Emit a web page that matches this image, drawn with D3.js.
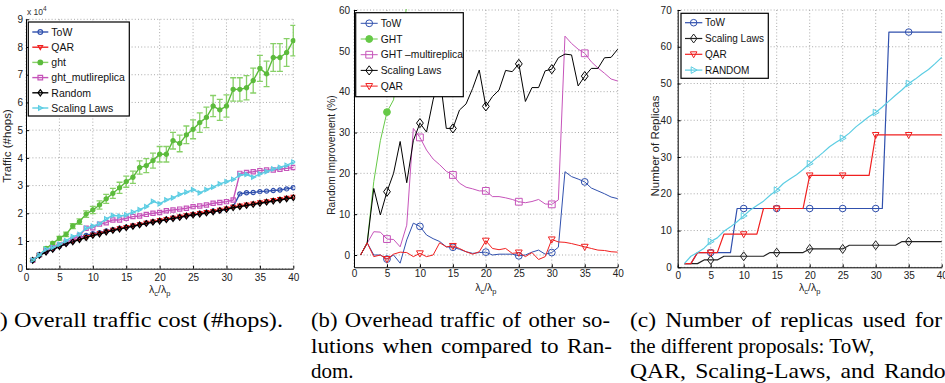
<!DOCTYPE html>
<html>
<head>
<meta charset="utf-8">
<script src="https://cdn.jsdelivr.net/npm/d3@7/dist/d3.min.js"></script>
<style>
  html, body { margin: 0; padding: 0; background: #fff; }
  svg { display: block; }
</style>
</head>
<body>
<svg id="fig" width="945" height="383"></svg>
<script>
// request-rate ratio λc/λp used in every run
const ratio = [1,2,3,4,5,6,7,8,9,10,11,12,13,14,15,16,17,18,19,20,
               21,22,23,24,25,26,27,28,29,30,31,32,33,34,35,36,37,38,39,40];

// (a) overall traffic, in units of 10^4 hops
const trafficTow      = [0.30,0.49,0.61,0.71,0.81,0.91,0.99,1.10,1.20,1.26,1.30,1.36,1.41,1.46,1.50,1.55,1.60,1.65,1.70,1.74,
                         1.79,1.83,1.87,1.92,1.96,2.00,2.04,2.08,2.11,2.16,2.24,2.70,2.74,2.75,2.78,2.80,2.82,2.84,2.88,2.92];
const trafficQar      = [0.30,0.49,0.61,0.71,0.81,0.91,0.99,1.07,1.14,1.22,1.27,1.34,1.40,1.45,1.50,1.55,1.60,1.65,1.70,1.75,
                         1.79,1.83,1.88,1.92,1.96,2.00,2.04,2.08,2.12,2.17,2.23,2.27,2.31,2.35,2.39,2.43,2.47,2.51,2.55,2.59];
const trafficGht      = [0.31,0.49,0.73,0.91,1.10,1.24,1.54,1.70,1.97,2.12,2.30,2.52,2.72,2.92,3.14,3.30,3.65,3.72,3.90,4.13,
                         4.13,4.62,4.52,4.83,5.03,5.27,5.46,5.87,5.73,5.87,6.47,6.47,6.53,6.79,7.23,7.03,7.62,7.62,7.80,8.23];
const trafficGhtErr   = [0.05,0.05,0.06,0.06,0.07,0.08,0.09,0.10,0.12,0.13,0.15,0.16,0.18,0.20,0.20,0.22,0.24,0.25,0.27,0.28,
                         0.28,0.30,0.30,0.32,0.34,0.35,0.37,0.38,0.38,0.40,0.42,0.42,0.44,0.45,0.47,0.46,0.50,0.50,0.50,0.55];
const trafficGhtMulti = [0.30,0.50,0.65,0.76,0.86,0.96,1.06,1.20,1.46,1.48,1.61,1.66,1.76,1.76,1.82,1.88,1.90,1.96,2.00,2.03,
                         2.09,2.12,2.15,2.18,2.24,2.26,2.30,2.36,2.39,2.42,2.48,3.44,3.47,3.50,3.54,3.56,3.56,3.59,3.62,3.65];
const trafficRandom   = [0.30,0.48,0.60,0.70,0.80,0.90,0.97,1.05,1.12,1.20,1.25,1.32,1.38,1.43,1.48,1.53,1.58,1.63,1.68,1.72,
                         1.77,1.81,1.85,1.90,1.94,1.97,2.01,2.05,2.10,2.14,2.20,2.24,2.28,2.32,2.36,2.40,2.44,2.48,2.52,2.56];
const trafficScaling  = [0.31,0.49,0.71,0.77,0.88,1.01,1.16,1.24,1.46,1.54,1.62,1.80,1.92,1.90,1.94,2.04,2.13,2.24,2.43,2.34,
                         2.48,2.56,2.68,2.76,2.85,2.74,2.85,2.94,3.06,3.14,3.22,3.38,3.40,3.30,3.42,3.50,3.60,3.66,3.73,3.85];

// (b) improvement with respect to Random, in %
const gainTow      = [0,3,0,0,-1.0,0,-2.0,3.7,7.8,7.0,4.9,4.0,3.3,2.0,1.9,1.4,0.8,0.4,0.6,0.7,
                      0,0.2,0.2,0.2,-0.2,0,0.7,1.2,0.2,0.6,1.9,20.4,19.2,18.6,17.9,16.4,15.7,15.0,14.2,13.8];
const gainGht      = [0,3,18,28,35,38,50,61,74,75,84,90,96,103,112,116,131,128,132,139,
                      133,155,143,153,158,167,171,185,171,174,194,188,185,191,205,192,211,206,207,220];
const gainGhtMulti = [0,2.9,5.7,5.6,3.9,3.8,2.0,7.3,31,28.8,25.7,23.5,22.1,20.5,19.6,17.6,16.6,16.2,15.7,15.7,
                      14.3,14.3,14.0,13.6,13.05,12.8,13.1,13.6,12.5,12.4,13.5,53.6,51.8,50.4,49.4,47.3,45.8,44.5,43.1,42.6];
const gainScaling  = [0,2.9,16.3,9.8,15.5,20,27.8,17.7,28,32.3,30.1,38,44,31,31,35.5,37,40.8,45.3,36.4,
                      38.8,40.4,45.2,44.9,46.8,37.6,41,41,45.1,45.5,48.3,49.2,49,41.4,43.8,45.7,45.7,48.3,48.4,50.4];
const gainQar      = [0,3,-0.4,0,-1.0,0.2,0.7,0.6,-0.4,0.4,-0.4,0,3,2,2.2,1.6,0.8,0.2,0.8,3.5,
                      1.6,1.3,1.6,0.4,0.6,-0.4,0.6,-1.1,-0.4,3.8,3.2,3.1,2.8,2.4,2.0,1.6,1.2,1.1,0.8,0.7];

// (c) number of replicas
const replicasTow     = [1,1,4,4,4,4,4,4,16,16,16,16,16,16,16,16,16,16,16,16,
                         16,16,16,16,16,16,16,16,16,16,16,64,64,64,64,64,64,64,64,64];
const replicasScaling = [1,1,1,2,2,2,3,3,3,3,3,3,3,4,4,4,4,4,4,5,
                         5,5,5,5,5,6,6,6,6,6,6,6,6,7,7,7,7,7,7,7];
const replicasQar     = [1,1,4,4,4,4,9,9,9,9,9,9,16,16,16,16,16,16,16,25,
                         25,25,25,25,25,25,25,25,25,36,36,36,36,36,36,36,36,36,36,36];
const replicasRandom  = [1,3,4,5.2,7,8,9.8,11,12.4,14,15.6,16.8,18,19.6,21,22.8,24,25.2,26.6,28.2,
                         29.7,31.2,32.8,34,35.1,36.5,38.2,39.6,41,42.1,43.6,45.2,46.8,48.3,50,51.2,52.6,53.8,55.4,57.1];

const xTicks  = [0,5,10,15,20,25,30,35,40];
const yTicksA = [0,1,2,3,4,5,6,7,8,9];
const yTicksB = [0,10,20,30,40,50,60];
const yTicksC = [0,10,20,30,40,50,60,70];
const markedRatios = [5,10,15,20,25,30,35];

const SANS = "'Liberation Sans', Arial, Helvetica, sans-serif";
const SERIF = "'Liberation Serif', 'Times New Roman', serif";
const COL = {
  blue: "#3050ad", red: "#f02020", green: "#5cbb3c", greenLight: "#66c947",
  err: "#88d068", magenta: "#c654ba", black: "#000000", cyan: "#5ccde3"
};

const svg = d3.select("#fig");

function markerPath(type, r) {
  switch (type) {
    case "circle":
    case "dot":
      return `M${r},0A${r},${r} 0 1,1 ${-r},0A${r},${r} 0 1,1 ${r},0Z`;
    case "square":
      return `M${-r},${-r}h${2*r}v${2*r}h${-2*r}Z`;
    case "diamond":
      return `M0,${-r*1.35}L${r},0L0,${r*1.35}L${-r},0Z`;
    case "triDown":
      return `M${-r},${-r*0.75}L${r},${-r*0.75}L0,${r*1.05}Z`;
    case "triRight":
      return `M${-r*0.75},${-r}L${r*1.05},0L${-r*0.75},${r}Z`;
  }
}

function drawMarker(sel, s, cx, cy, r, sw) {
  sel.append("path")
    .attr("d", markerPath(s.marker, r))
    .attr("transform", `translate(${cx},${cy})`)
    .attr("fill", s.marker === "dot" ? s.color : "none")
    .attr("stroke", s.color)
    .attr("stroke-width", sw);
}

function drawPanel(p) {
  const g = svg.append("g");
  const x = d3.scaleLinear().domain([0, 40]).range([p.left, p.right]);
  const y = d3.scaleLinear().domain(p.yDomain).range([p.bottom, p.top]);

  // dotted grid
  const grid = g.append("g").attr("stroke", "#a0a0a0").attr("stroke-width", 0.9)
    .attr("stroke-dasharray", "1,2.2");
  grid.selectAll(".gx").data(xTicks).join("line")
    .attr("x1", d => x(d)).attr("x2", d => x(d))
    .attr("y1", p.top).attr("y2", p.bottom);
  grid.selectAll(".gy").data(p.yTicks).join("line")
    .attr("x1", p.left).attr("x2", p.right)
    .attr("y1", d => y(d)).attr("y2", d => y(d));

  // plotted series, clipped to the axes box
  const clipId = "clip-" + p.id;
  svg.append("clipPath").attr("id", clipId).append("rect")
    .attr("x", p.left).attr("y", p.top - 1)
    .attr("width", p.right - p.left + 2).attr("height", p.bottom - p.top + 1);
  const plot = g.append("g").attr("clip-path", `url(#${clipId})`);

  const line = d3.line().x((d, i) => x(ratio[i])).y(d => y(d));

  p.series.forEach(s => {
    const sg = plot.append("g");
    if (s.err) {
      const eg = sg.append("g").attr("stroke", COL.err).attr("stroke-width", 1.3);
      s.values.forEach((v, i) => {
        const cx = x(ratio[i]), lo = y(v - s.err[i]), hi = y(v + s.err[i]);
        eg.append("line").attr("x1", cx).attr("x2", cx).attr("y1", lo).attr("y2", hi);
        eg.append("line").attr("x1", cx - 3).attr("x2", cx + 3).attr("y1", lo).attr("y2", lo);
        eg.append("line").attr("x1", cx - 3).attr("x2", cx + 3).attr("y1", hi).attr("y2", hi);
      });
    }
    sg.append("path").datum(s.values)
      .attr("d", line)
      .attr("fill", "none")
      .attr("stroke", s.color)
      .attr("stroke-width", p.lineWidth)
      .attr("stroke-linejoin", "round");
    s.values.forEach((v, i) => {
      if (p.markEvery || markedRatios.includes(ratio[i])) {
        drawMarker(sg, s, x(ratio[i]), y(v), p.markerR, p.markerSW);
      }
    });
  });

  // axes with inward ticks
  const xAxis = d3.axisBottom(x).tickValues(xTicks).tickSizeInner(-3).tickSizeOuter(0)
    .tickPadding(p.xPad);
  const yAxis = d3.axisLeft(y).tickValues(p.yTicks).tickSizeInner(-3).tickSizeOuter(0)
    .tickPadding(p.yPad);
  const ax = g.append("g").attr("transform", `translate(0,${p.bottom})`).call(xAxis);
  const ay = g.append("g").attr("transform", `translate(${p.left},0)`).call(yAxis);
  [ax, ay].forEach(a => {
    a.select(".domain").attr("stroke", "#000").attr("stroke-width", 1);
    a.selectAll(".tick line").attr("stroke", "#000");
    a.selectAll("text").attr("font-family", SANS).attr("font-size", 10).attr("fill", "#222");
  });

  // x label: λc/λp
  const xl = g.append("text")
    .attr("x", (p.left + p.right) / 2).attr("y", p.bottom + 24)
    .attr("text-anchor", "middle")
    .attr("font-family", SANS).attr("font-size", 10.5).attr("fill", "#222");
  xl.append("tspan").text("λ");
  xl.append("tspan").attr("font-size", 7.5).attr("dy", 3).text("c");
  xl.append("tspan").attr("dy", -3).text("/λ");
  xl.append("tspan").attr("font-size", 7.5).attr("dy", 3).text("p");

  // y label
  g.append("text")
    .attr("transform", `translate(${p.ylabelX},${p.ylabelY}) rotate(-90)`)
    .attr("text-anchor", "middle")
    .attr("font-family", SANS).attr("font-size", p.ylabelSize).attr("fill", "#222")
    .text(p.ylabel);

  // legend
  const L = p.legend;
  const lg = g.append("g");
  lg.append("rect")
    .attr("x", L.x).attr("y", L.y).attr("width", L.w).attr("height", L.h)
    .attr("fill", "#fff").attr("stroke", "#000").attr("stroke-width", 1.2);
  p.series.forEach((s, i) => {
    const ly = L.y + L.first + i * L.step;
    lg.append("line")
      .attr("x1", L.x + L.s0).attr("x2", L.x + L.s1)
      .attr("y1", ly).attr("y2", ly)
      .attr("stroke", s.legendColor || s.color).attr("stroke-width", p.lineWidth);
    drawMarker(lg, s, L.x + (L.s0 + L.s1) / 2, ly, L.markerR, p.markerSW);
    lg.append("text")
      .attr("x", L.x + L.tx).attr("y", ly).attr("dy", "0.36em")
      .attr("font-family", SANS).attr("font-size", L.fontSize).attr("fill", "#111")
      .text(s.name);
  });

  return { x, y, g };
}

// (a) overall traffic
const pa = drawPanel({
  id: "a", left: 26, right: 293.3, top: 19.3, bottom: 268.7,
  yDomain: [0, 9], yTicks: yTicksA,
  lineWidth: 1.4, markerR: 2.1, markerSW: 1.2, markEvery: true,
  xPad: 5, yPad: 3,
  ylabel: "Traffic (#hops)", ylabelX: 11, ylabelY: 146, ylabelSize: 11.5,
  series: [
    { name: "ToW", values: trafficTow, color: COL.blue, marker: "circle" },
    { name: "QAR", values: trafficQar, color: COL.red, marker: "triDown" },
    { name: "ght", values: trafficGht, color: COL.green, marker: "dot", err: trafficGhtErr, legendColor: COL.err },
    { name: "ght_mutlireplica", values: trafficGhtMulti, color: COL.magenta, marker: "square" },
    { name: "Random", values: trafficRandom, color: COL.black, marker: "diamond" },
    { name: "Scaling Laws", values: trafficScaling, color: COL.cyan, marker: "triRight" }
  ],
  legend: { x: 28.3, y: 22, w: 101, h: 94, first: 10, step: 15.2, s0: 4, s1: 20, tx: 23, markerR: 2.3, fontSize: 10.5 }
});

// power-of-ten multiplier above the traffic axis
const mult = pa.g.append("text").attr("x", 27).attr("y", 15)
  .attr("font-family", SANS).attr("font-size", 8.5).attr("fill", "#333");
mult.append("tspan").text("x 10");
mult.append("tspan").attr("dy", -4).attr("font-size", 6.5).text("4");

// (b) improvement over Random
drawPanel({
  id: "b", left: 354, right: 617.7, top: 10, bottom: 267.25,
  yDomain: [-3, 60], yTicks: yTicksB,
  lineWidth: 1, markerR: 3.4, markerSW: 1, markEvery: false,
  xPad: 3, yPad: 4,
  ylabel: "Random Improvement (%)", ylabelX: 335, ylabelY: 155, ylabelSize: 10.2,
  series: [
    { name: "ToW", values: gainTow, color: COL.blue, marker: "circle" },
    { name: "GHT", values: gainGht, color: COL.greenLight, marker: "dot" },
    { name: "GHT \u2013multireplica", values: gainGhtMulti, color: COL.magenta, marker: "square" },
    { name: "Scaling Laws", values: gainScaling, color: COL.black, marker: "diamond" },
    { name: "QAR", values: gainQar, color: COL.red, marker: "triDown" }
  ],
  legend: { x: 355.7, y: 12.7, w: 107.6, h: 84, first: 10.6, step: 15.7, s0: 5, s1: 22, tx: 25, markerR: 3.4, fontSize: 10.3 }
});

// (c) number of replicas
drawPanel({
  id: "c", left: 677.7, right: 941.7, top: 10, bottom: 267.3,
  yDomain: [0, 70], yTicks: yTicksC,
  lineWidth: 1.2, markerR: 3.3, markerSW: 1, markEvery: false,
  xPad: 5, yPad: 6,
  ylabel: "Number of Replicas", ylabelX: 659, ylabelY: 146, ylabelSize: 11.5,
  series: [
    { name: "ToW", values: replicasTow, color: COL.blue, marker: "circle" },
    { name: "Scaling Laws", values: replicasScaling, color: "#222", marker: "diamond" },
    { name: "QAR", values: replicasQar, color: COL.red, marker: "triDown" },
    { name: "RANDOM", values: replicasRandom, color: COL.cyan, marker: "triRight" }
  ],
  legend: { x: 681, y: 13.3, w: 87.3, h: 65, first: 9.4, step: 15.8, s0: 4, s1: 21.3, tx: 24, markerR: 3.3, fontSize: 10 }
});

// sub-figure captions; justified lines take part of their slack in the word gaps
// (the page is narrower than the caption block, so the outer edges of (a)
// and (c) run past the frame)
const cap = svg.append("g").attr("font-family", SERIF).attr("font-size", 21).attr("fill", "#000");
[
  { t: "(a) Overall traffic cost (#hops).", x: -19, y: 327, len: 302 },
  { t: "(b) Overhead traffic of other so-", x: 311, y: 327, len: 299, ws: 1.5 },
  { t: "lutions when compared to Ran-", x: 311, y: 353, len: 301, ws: 2.5 },
  { t: "dom.", x: 311, y: 378 },
  { t: "(c) Number of replicas used for", x: 630, y: 327, len: 312, ws: 3 },
  { t: "the different proposals: ToW,", x: 630, y: 353 },
  { t: "QAR, Scaling-Laws, and Random.", x: 630, y: 378, len: 340, ws: 3 }
].forEach(c => {
  const t = cap.append("text").attr("x", c.x).attr("y", c.y).text(c.t);
  if (c.ws) t.style("word-spacing", c.ws + "px");
  if (c.len) t.attr("textLength", c.len).attr("lengthAdjust", "spacingAndGlyphs");
});
</script>
</body>
</html>
